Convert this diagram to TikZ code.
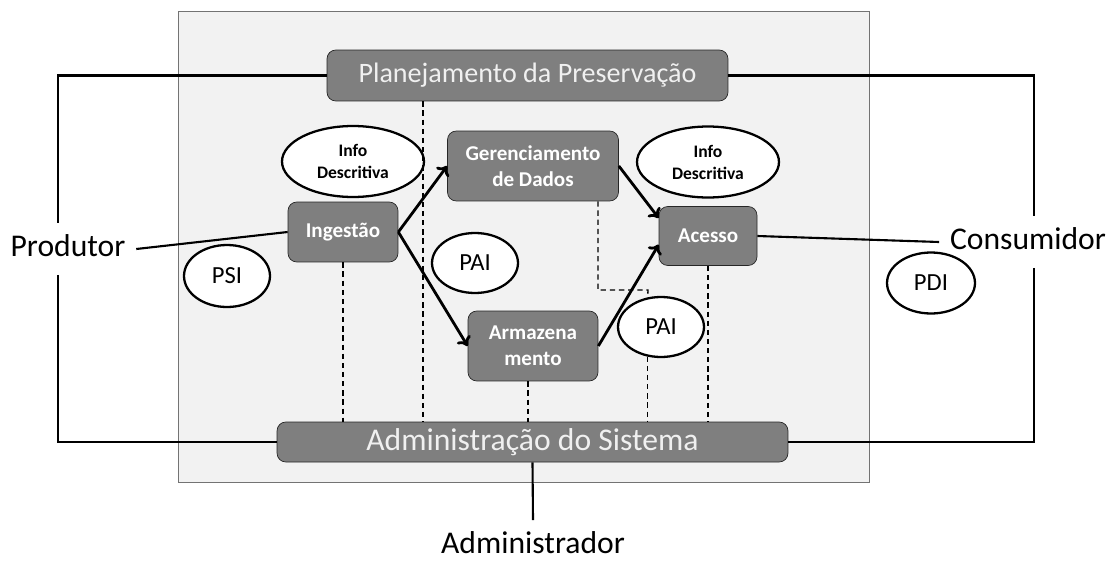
\documentclass[tikz,border=0pt]{standalone}
\usepackage{fontspec}
\setmainfont{Carlito}
\usetikzlibrary{shapes.geometric,arrows.meta}
\definecolor{boxgray}{RGB}{127,127,127}
\definecolor{bggray}{RGB}{242,242,242}

\begin{document}
\begin{tikzpicture}
[x=0.02cm,y=-0.02cm,
 func/.style={draw=black!85,fill=boxgray,rounded corners=5pt,text=white,align=center,
   inner sep=0pt,font=\bfseries\fontsize{12}{15}\selectfont},
 bar/.style={func,font=\fontsize{16}{18}\selectfont,text=white!94!black},
 pkg/.style={ellipse,draw,line width=1.3pt,fill=white,inner sep=0pt,
   font=\fontsize{14}{16}\selectfont},
 info/.style={pkg,align=center,font=\bfseries\fontsize{10}{12.5}\selectfont},
 actor/.style={font=\fontsize{18}{20}\selectfont,text height=13pt,text depth=4pt,
   inner xsep=6pt,inner ysep=6pt},
 link/.style={line width=1.2pt},
 flow/.style={-{To[length=5pt,width=9pt]},line width=1.6pt},
 ctl/.style={dash pattern=on 3pt off 2.2pt,line width=0.8pt}]

\useasboundingbox (0,0) rectangle (1112,561);
\draw[draw=black!55,fill=bggray] (178,11) rectangle (869,482);

\node[bar,minimum width=8.02cm,minimum height=1.02cm] (plan) at (527.5,75.5) {Planejamento da Preservação};
\node[bar,minimum width=10.22cm,minimum height=0.8cm,font=\fontsize{18}{20}\selectfont] (adm) at (532.5,442) {Administração do Sistema};

\node[func,minimum width=2.2cm,minimum height=1.2cm] (ing) at (343,232) {Ingestão};
\node[func,minimum width=3.42cm,minimum height=1.4cm] (ger) at (533,166) {Gerenciamento\\de Dados};
\node[func,minimum width=2.6cm,minimum height=1.4cm] (arm) at (533,346) {Armazena\\mento};
\node[func,minimum width=1.96cm,minimum height=1.18cm] (acc) at (708,236) {Acesso};

\node[info,minimum width=2.84cm,minimum height=1.42cm] (infa) at (353,161.5) {Info\\Descritiva};
\node[info,minimum width=2.84cm,minimum height=1.42cm] (infb) at (708,162) {Info\\Descritiva};
\node[pkg,minimum width=1.72cm,minimum height=1.24cm] (psi) at (227,276) {PSI};
\node[pkg,minimum width=1.72cm,minimum height=1.2cm] (paia) at (475,263) {PAI};
\node[pkg,minimum width=1.72cm,minimum height=1.2cm] (paib) at (661,327) {PAI};
\node[pkg,minimum width=1.76cm,minimum height=1.22cm] (pdi) at (931,283) {PDI};

\node[actor] (prod) at (68,249) {Produtor};
\node[actor] (cons) at (1028,242) {Consumidor};
\node[actor] (admr) at (533,546) {Administrador};
\coordinate (bend) at (648,290);

\draw[link] (plan.west) -| (58,0 |- prod.north);
\draw[link] (58,0 |- prod.south) |- (adm.west);
\draw[link] (plan.east) -| (1034,0 |- cons.north);
\draw[link] (1034,0 |- cons.south) |- (adm.east);
\draw[link] (prod.east) -- (ing.west);
\draw[link] (acc.east) -- (cons.west);
\draw[link] (adm.south) -- (admr.north);

\draw[flow] (ing.east) -- (ger.west);
\draw[flow] (ing.east) -- (arm.west);
\draw[flow] (ger.east) -- (acc.160);
\draw[flow] (arm.east) -- (acc.190);

\draw[ctl] (plan.south -| 423,0) -- (adm.north -| 423,0);
\draw[ctl] (ing.south) -- (ing.south |- adm.north);
\draw[ctl] (arm.south -| 528,0) -- (adm.north -| 528,0);
\draw[ctl] (acc.south) -- (acc.south |- adm.north);
\draw[ctl] (ger.south -| 598,0) |- (bend) -- (paib.114);
\draw[ctl] (paib.-114) -- (paib.-114 |- adm.north);
\end{tikzpicture}
\end{document}
